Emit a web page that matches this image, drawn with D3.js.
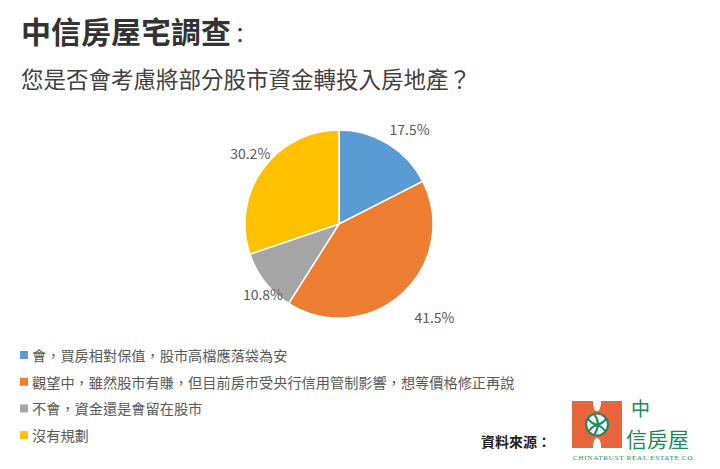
<!DOCTYPE html>
<html>
<head>
<meta charset="utf-8">
<script src="https://cdn.jsdelivr.net/npm/d3@7"></script>
<style>
  body { margin: 0; background: #fff; }
  svg { font-family: "Noto Sans CJK TC", "Noto Sans", sans-serif; }
</style>
</head>
<body>
<svg id="chart" width="720" height="469"></svg>
<script>
var categories = [
  "會，買房相對保值，股市高檔應落袋為安",
  "觀望中，雖然股市有賺，但目前房市受央行信用管制影響，想等價格修正再說",
  "不會，資金還是會留在股市",
  "沒有規劃"
];
var values = [17.5, 41.5, 10.8, 30.2];
var colors = ["#5B9BD5", "#ED7D31", "#A5A5A5", "#FFC000"];

var svg = d3.select("#chart");

// titles
var title = svg.append("text").attr("x", 21).attr("y", 43)
  .attr("font-size", 30).attr("font-weight", "bold").attr("fill", "#333")
  .text("中信房屋宅調查");
title.append("tspan").attr("font-weight", "normal").attr("font-size", 22).attr("dx", -2).attr("fill", "#444").text("：");
svg.append("text").attr("x", 21).attr("y", 88)
  .attr("font-size", 22.5).attr("fill", "#404040")
  .text("您是否會考慮將部分股市資金轉投入房地產？");

// pie
var cx = 339, cy = 224, r = 94;
var pie = d3.pie().sort(null).value(function(d){ return d; });
var arcs = pie(values);
var arc = d3.arc().innerRadius(0).outerRadius(r);
var g = svg.append("g").attr("transform", "translate(" + cx + "," + cy + ")");

g.selectAll("path")
  .data(arcs)
  .enter().append("path")
  .attr("d", arc)
  .attr("fill", function(d, i){ return colors[i]; })
  .attr("stroke", "#fff")
  .attr("stroke-width", 1.5);

// labels just outside the pie edge
g.selectAll("text.lbl")
  .data(arcs)
  .enter().append("text")
  .attr("class", "lbl")
  .attr("transform", function(d){
    var a = (d.startAngle + d.endAngle) / 2;
    var rr = r + (d.data > 20 ? 30 : 18);
    var x = rr * Math.sin(a) + 12;
    var y = -rr * Math.cos(a) + 2;
    return "translate(" + x + "," + y + ")";
  })
  .attr("text-anchor", "middle")
  .attr("dy", "0.35em")
  .attr("font-size", 14)
  .attr("fill", "#595959")
  .text(function(d){ return d.data.toFixed(1) + "%"; });

// legend
var legend = svg.append("g").attr("transform", "translate(20,356)");
var items = legend.selectAll("g")
  .data(categories)
  .enter().append("g")
  .attr("transform", function(d, i){ return "translate(0," + i * 26.7 + ")"; });
items.append("rect")
  .attr("x", 0).attr("y", -5).attr("width", 8).attr("height", 8)
  .attr("fill", function(d, i){ return colors[i]; });
items.append("text")
  .attr("x", 12).attr("dy", "0.35em")
  .attr("font-size", 14.2).attr("fill", "#595959")
  .text(function(d){ return d; });

// source
svg.append("text").attr("x", 481).attr("y", 447)
  .attr("font-size", 14).attr("font-weight", "bold").attr("fill", "#222")
  .text("資料來源：");

// logo
var logo = svg.append("g").attr("transform", "translate(572,401)");
logo.append("path")
  .attr("d", "M0,0 H21 Q21,10 25,10 Q29,10 29,0 H50 V47 H29 Q29,37 25,37 Q21,37 21,47 H0 Z")
  .attr("fill", "#E8643A");
logo.append("circle").attr("cx", 25).attr("cy", 23.5).attr("r", 11).attr("fill", "#fff").attr("stroke", "#1E8A5A").attr("stroke-width", 2.2);
logo.append("path").attr("d", "M16,18 Q25,29 34,18 M17,30 Q25,19 33,30 M22,13 Q30,23 22,34")
  .attr("fill", "none").attr("stroke", "#1E8A5A").attr("stroke-width", 2);
logo.append("text").attr("x", 59).attr("y", 15).attr("font-size", 19).attr("fill", "#1E8A5A").text("中");
logo.append("text").attr("x", 54).attr("y", 46).attr("font-size", 21).attr("fill", "#1E8A5A").text("信房屋");
logo.append("text").attr("x", 1).attr("y", 59).attr("font-size", 7).attr("fill", "#1E8A5A")
  .attr("font-family", "Liberation Serif, serif").attr("textLength", 122).text("CHINATRUST REAL ESTATE CO.");
</script>
</body>
</html>
